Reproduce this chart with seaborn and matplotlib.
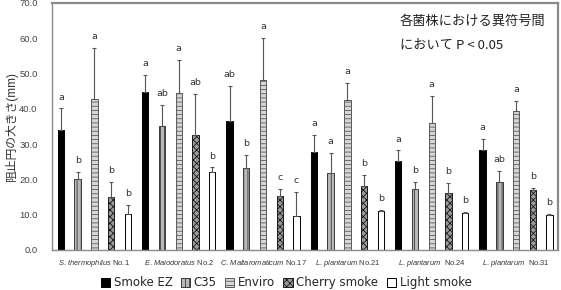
import matplotlib
matplotlib.use("Agg")
import matplotlib.pyplot as plt
from matplotlib.patches import Patch
import seaborn as sns
import pandas as pd

# -----------------------------
# data
# -----------------------------
strains = ["S. thermophilus No.1", "E. Maiodoratus No.2", "C. Maltaromaticum No.17",
           "L. plantarum No.21", "L. plantarum No.24", "L. plantarum No.31"]
strain_labels = [r"$\it{S.\,thermophilus}$ No.1", r"$\it{E.\,Maiodoratus}$ No.2",
                 r"$\it{C.\,Maltaromaticum}$ No.17", r"$\it{L.\,plantarum}$ No.21",
                 r"$\it{L.\,plantarum}$  No.24", r"$\it{L.\,plantarum}$  No.31"]
treatments = ["Smoke EZ", "C35", "Enviro", "Cherry smoke", "Light smoke"]

smoke_ez = [34.0, 44.8, 36.5, 27.8, 25.1, 28.3]
c35 = [20.0, 35.1, 23.1, 21.9, 17.3, 19.2]
enviro = [42.7, 44.4, 48.2, 42.5, 36.1, 39.4]
cherry = [14.9, 32.7, 15.3, 18.2, 16.2, 17.0]
light = [10.1, 22.1, 9.6, 11.0, 10.4, 9.9]

smoke_ez_err = [6.1, 4.9, 10.0, 4.8, 3.1, 3.1]
c35_err = [2.2, 6.1, 3.8, 5.5, 2.0, 3.1]
enviro_err = [14.6, 9.4, 11.9, 4.8, 7.5, 2.9]
cherry_err = [4.4, 11.6, 2.0, 3.0, 2.9, 0.6]
light_err = [2.6, 1.3, 6.9, 0.3, 0.3, 0.3]

smoke_ez_sig = ["a", "a", "ab", "a", "a", "a"]
c35_sig = ["b", "ab", "b", "a", "b", "ab"]
enviro_sig = ["a", "a", "a", "a", "a", "a"]
cherry_sig = ["b", "ab", "c", "b", "b", "b"]
light_sig = ["b", "b", "c", "b", "b", "b"]

means = [smoke_ez, c35, enviro, cherry, light]
errs = [smoke_ez_err, c35_err, enviro_err, cherry_err, light_err]
sigs = [smoke_ez_sig, c35_sig, enviro_sig, cherry_sig, light_sig]

rows = []
for t, m in zip(treatments, means):
    for s, v in zip(strains, m):
        rows.append([s, t, v])
df = pd.DataFrame(rows, columns=["strain", "treatment", "mean"])

# -----------------------------
# style
# -----------------------------
sns.set_style("white")
plt.rcParams["font.family"] = ["Liberation Sans", "Noto Sans CJK JP"]
plt.rcParams["mathtext.fontset"] = "custom"
plt.rcParams["mathtext.rm"] = "Liberation Sans"
plt.rcParams["mathtext.it"] = "Liberation Sans:italic"
plt.rcParams["hatch.linewidth"] = 0.6

faces = ["black", "#b8b8b8", "#d6d6d6", "#9a9a9a", "white"]
edges = ["black", "#3a3a3a", "#5a5a5a", "#1a1a1a", "black"]
hatches = [None, "||||", "----", "xxxxx", None]

fig = plt.figure(figsize=(5.61, 2.90), dpi=100)
ax = fig.add_axes([0.093, 0.138, 0.902, 0.852])

sns.barplot(data=df, x="strain", y="mean", hue="treatment", order=strains,
            hue_order=treatments, width=0.99, gap=0.62, errorbar=None,
            legend=False, palette=faces, saturation=1, ax=ax)

bar_conts = list(ax.containers)
for i, cont in enumerate(bar_conts):
    xs = []
    for bar in cont.patches:
        bar.set_facecolor(faces[i])
        bar.set_edgecolor(edges[i])
        bar.set_linewidth(0.7)
        if hatches[i]:
            bar.set_hatch(hatches[i])
        xs.append(bar.get_x() + bar.get_width() / 2)
    ax.errorbar(xs, means[i], yerr=[[0] * len(xs), errs[i]], fmt="none",
                ecolor="#555555", elinewidth=0.8, capsize=1.6, capthick=0.8, zorder=1)
    for x, m, e, s in zip(xs, means[i], errs[i], sigs[i]):
        ax.text(x, m + e + 3.2, s, ha="center", va="center", fontsize=6.8,
                color="#333333", family="DejaVu Sans")

ax.set_ylim(0, 70)
ax.set_xlim(-0.5, 5.5)
ax.set_yticks(range(0, 71, 10))
ax.set_yticklabels([f"{v:.1f}" for v in range(0, 71, 10)], fontsize=6.8, color="#444444")
ax.set_xticks(range(6))
ax.set_xticklabels(strain_labels, fontsize=5.4, color="#333333")
ax.set_xticks([g - 0.5 for g in range(7)], minor=True)
ax.tick_params(axis="x", which="major", length=0, pad=6)
ax.tick_params(axis="x", which="minor", length=16, width=0.8, color="#888888", direction="out")
ax.tick_params(axis="y", length=2.5, width=0.8, color="#888888", direction="out", pad=8)
ax.set_xlabel("")
ax.set_ylabel("阻止円の大きさ(mm)", fontsize=8.5, color="#333333", labelpad=1)

for sp in ax.spines.values():
    sp.set_visible(True)
    sp.set_color("#8a8a8a")
    sp.set_linewidth(1.0)
ax.spines["top"].set_linewidth(1.6)
ax.spines["right"].set_linewidth(1.6)

fig.text(0.713, 0.928, "各菌株における異符号間", fontsize=9.5, va="center",
         family=["Noto Sans CJK JP"], color="#222222")
fig.text(0.713, 0.845, "において P < 0.05", fontsize=9.5, va="center",
         family=["Noto Sans CJK JP"], color="#222222")

handles = [Patch(facecolor=faces[i], edgecolor=edges[i], hatch=hatches[i], linewidth=0.7)
           for i in range(5)]
fig.legend(handles, treatments, loc="center", bbox_to_anchor=(0.51, 0.025), ncol=5,
           frameon=False, handlelength=0.8, handleheight=0.8,
           handletextpad=0.3, columnspacing=0.7, prop={"family": "DejaVu Sans", "size": 8.5})

fig.savefig("out.png", dpi=100)
